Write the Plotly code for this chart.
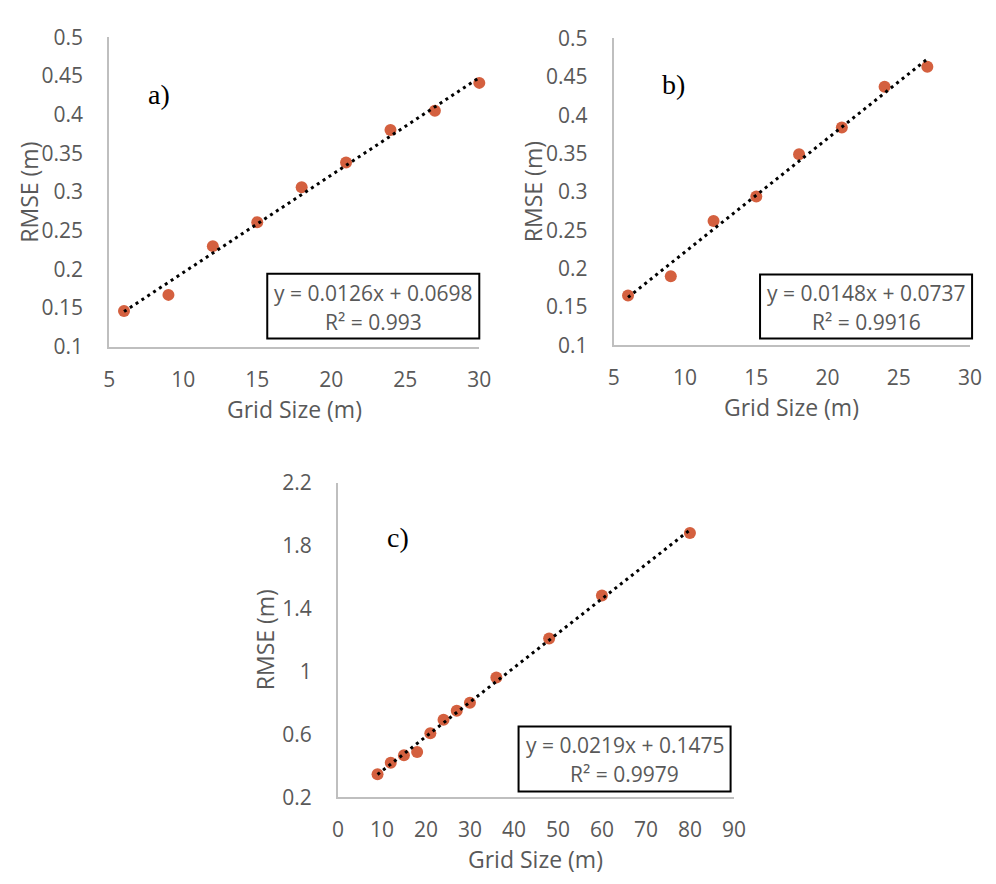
import plotly.graph_objects as go

# page body has an 8px margin; figure drawn inside it
OFF = 8
W, H = 996 - 2 * OFF, 884 - 2 * OFF

# ---- data ----
grid_a = [6, 9, 12, 15, 18, 21, 24, 27, 30]
rmse_a = [0.146, 0.167, 0.230, 0.261, 0.306, 0.338, 0.380, 0.405, 0.441]
slope_a, icpt_a, r2_a = 0.0126, 0.0698, "0.993"

grid_b = [6, 9, 12, 15, 18, 21, 24, 27]
rmse_b = [0.165, 0.190, 0.262, 0.294, 0.349, 0.384, 0.437, 0.463]
slope_b, icpt_b, r2_b = 0.0148, 0.0737, "0.9916"

grid_c = [9, 12, 15, 18, 21, 24, 27, 30, 36, 48, 60, 80]
rmse_c = [0.346, 0.419, 0.467, 0.487, 0.606, 0.692, 0.750, 0.801, 0.961, 1.209, 1.482, 1.880]
slope_c, icpt_c, r2_c = 0.0219, 0.1475, "0.9979"

labels = ["a)", "b)", "c)"]

# ---- layout geometry (reference-page pixels) ----
panels = [
    dict(x0=105, x1=482, y0=22.7, y1=342.5, xr=[5, 30], yr=[0.1, 0.5], dx=5, dy=0.05,
         t0x=5, t0y=0.1, lab=(155.5, 82), box=(266, 267, 482, 334), ytx=23),
    dict(x0=619, x1=982, y0=24, y1=341, xr=[5, 30], yr=[0.1, 0.5], dx=5, dy=0.05,
         t0x=5, t0y=0.1, lab=(679.5, 72), box=(768, 268, 984, 334), ytx=537),
    dict(x0=338, x1=741.4, y0=483, y1=808, xr=[0, 90], yr=[0.2, 2.2], dx=10, dy=0.4,
         t0x=0, t0y=0.2, lab=(399, 540), box=(522, 735, 738, 802), ytx=264),
]

MARKER = "#D4603F"
GRAY = "#595959"
AXIS = "#BFBFBF"
FONT = "Open Sans"


def px(x):
    return (x - OFF) / W


def py(y):
    return 1 - (y - OFF) / H


fig = go.Figure()
datasets = [(grid_a, rmse_a, slope_a, icpt_a, r2_a),
            (grid_b, rmse_b, slope_b, icpt_b, r2_b),
            (grid_c, rmse_c, slope_c, icpt_c, r2_c)]

annotations = []
shapes = []
for i, ((gx, gy, m, b, r2), p) in enumerate(zip(datasets, panels)):
    sfx = "" if i == 0 else str(i + 1)
    xa, ya = "x" + sfx, "y" + sfx
    fig.add_trace(go.Scatter(
        x=gx, y=gy, mode="markers", xaxis=xa, yaxis=ya,
        marker=dict(color=MARKER, size=12), cliponaxis=False, showlegend=False))
    tx = [min(gx), max(gx)]
    ty = [m * v + b for v in tx]
    fig.add_trace(go.Scatter(
        x=tx, y=ty, mode="lines", xaxis=xa, yaxis=ya,
        line=dict(color="black", width=3, dash="3px,4px"),
        cliponaxis=False, showlegend=False))

    eps_x = (p["xr"][1] - p["xr"][0]) * 1e-6
    eps_y = (p["yr"][1] - p["yr"][0]) * 1e-6
    axis_common = dict(showgrid=False, zeroline=False, showline=True,
                       linecolor=AXIS, linewidth=2, ticks="",
                       tickfont=dict(family=FONT, size=21, color=GRAY))
    fig.layout["xaxis" + sfx] = dict(
        domain=[px(p["x0"]), px(p["x1"])],
        range=[p["xr"][0] - eps_x, p["xr"][1] + eps_x],
        dtick=p["dx"], tick0=p["t0x"], anchor=ya, ticklabelstandoff=13, **axis_common)
    fig.layout["yaxis" + sfx] = dict(
        domain=[py(p["y1"]), py(p["y0"])],
        range=[p["yr"][0] - eps_y, p["yr"][1] + eps_y],
        dtick=p["dy"], tick0=p["t0y"], anchor=xa, ticklabelstandoff=20, **axis_common)

    cx = (p["x0"] + p["x1"]) / 2
    cy = (p["y0"] + p["y1"]) / 2
    annotations.append(dict(
        text="Grid Size (m)", x=px(cx), y=py(p["y1"] + 64), xref="paper",
        yref="paper", xanchor="center", yanchor="middle", showarrow=False,
        font=dict(family=FONT, size=23, color=GRAY)))
    annotations.append(dict(
        text="RMSE (m)", x=px(p["ytx"]), y=py(cy), xref="paper", yref="paper",
        xanchor="center", yanchor="middle", showarrow=False, textangle=-90,
        font=dict(family=FONT, size=23, color=GRAY)))
    annotations.append(dict(
        text=labels[i], x=px(p["lab"][0]), y=py(p["lab"][1]), xref="paper",
        yref="paper", xanchor="center", yanchor="middle", showarrow=False,
        font=dict(family="Liberation Serif", size=28, color="black")))

    bx0, by0, bx1, by1 = p["box"]
    shapes.append(dict(
        type="rect", xref="paper", yref="paper",
        x0=px(bx0), x1=px(bx1), y0=py(by1), y1=py(by0),
        line=dict(color="black", width=2), fillcolor="white", layer="above"))
    bcx = (bx0 + bx1) / 2
    bcy = (by0 + by1) / 2
    for txt, dyy in ((f"y = {m}x + {b}", -14), (f"R² = {r2}", 16)):
        annotations.append(dict(
            text=txt, x=px(bcx), y=py(bcy + dyy), xref="paper", yref="paper",
            xanchor="center", yanchor="middle", showarrow=False,
            font=dict(family=FONT, size=21, color=GRAY)))

fig.update_layout(
    width=W, height=H, margin=dict(l=0, r=0, t=0, b=0),
    paper_bgcolor="white", plot_bgcolor="white",
    annotations=annotations, shapes=shapes, showlegend=False)

fig.write_html("out.html")
